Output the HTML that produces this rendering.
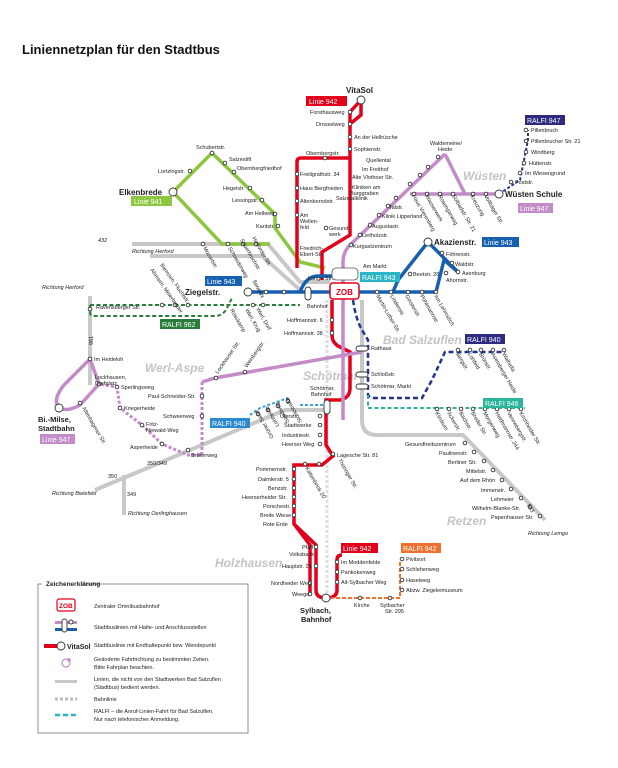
<!DOCTYPE html>
<html><head><meta charset="utf-8">
<style>
body{margin:0;background:#fff;width:618px;height:768px;overflow:hidden}
svg{display:block}
text{font-family:"Liberation Sans",sans-serif;font-size:5.5px;fill:#222}
.b{font-weight:bold}
.st{fill:#fff;stroke:#333;stroke-width:0.9}
.dist{font-size:12px;font-weight:bold;fill:#c4c4c4;font-style:italic}
</style></head><body>
<svg width="618" height="768" viewBox="0 0 618 768" xmlns="http://www.w3.org/2000/svg">
<text x="22" y="54" style="font-size:13px;font-weight:bold;fill:#111">Liniennetzplan für den Stadtbus</text>

<!-- district names -->
<text x="463" y="180" class="dist">Wüsten</text>
<text x="145" y="372" class="dist">Werl-Aspe</text>
<text x="383" y="344" class="dist">Bad Salzuflen</text>
<text x="303" y="380" class="dist">Schötmar</text>
<text x="447" y="525" class="dist">Retzen</text>
<text x="215" y="567" class="dist">Holzhausen</text>

<!-- grey lines -->
<g fill="none" stroke="#c8c8c8" stroke-width="4">
<path d="M132 244 H268 L300 282 H330"/>
<path d="M150 256 H262 L300 290"/>
<path d="M90 296 V385"/>
<path d="M95 490 L285 410 H325"/>
<path d="M124 475 V515"/>
<path d="M362 300 V420 Q362 435 377 435 H463 L545 520"/>
</g>
<path d="M327 300 V600" stroke="#ddd" stroke-width="3" stroke-dasharray="3 2" fill="none"/>
<text x="98" y="242" style="font-style:italic">432</text>
<text x="132" y="253" style="font-style:italic">Richtung Herford</text>
<text x="42" y="289" style="font-style:italic">Richtung Herford</text>
<text x="52" y="495" style="font-style:italic">Richtung Bielefeld</text>
<text x="128" y="515" style="font-style:italic">Richtung Oerlinghausen</text>
<text x="528" y="535" style="font-style:italic">Richtung Lemgo</text>
<text x="108" y="478">350</text><text x="147" y="465">350/349</text><text x="127" y="496">349</text>

<!-- green 941 -->
<g fill="none" stroke="#8dc63f" stroke-width="3.5">
<path d="M173 192 L212 153 L275 214 V228 L300 262 L325 268"/>
<path d="M173 192 L222 244 H270"/>
</g>
<!-- red 942 -->
<g fill="none" stroke="#e3001b" stroke-width="3.5">
<path d="M361 100 L350 112 V235 L322 252 V280"/>
<path d="M361 100 V115 L350 124"/>
<path d="M297 268 V162 Q297 158 301 158 H349"/>
<path d="M332 300 V335 Q332 342 338 346 L350 352 V388 Q350 398 340 400 H326 V445 L333 456 L322 465 H294 V524 L316 545 V590 Q316 598 326 598"/>
<path d="M294 524 L310 545 V595"/>
<path d="M326 598 Q337 598 337 590 V560 Q337 555 342 555"/>
</g>
<path d="M330 598 H400 V560" stroke="#f07030" stroke-width="2" stroke-dasharray="4 2" fill="none"/>
<!-- purple 947 -->
<g fill="none" stroke="#c38bc8" stroke-width="3.5">
<path d="M499 194 H410 M445 154 L465 194 M445 154 L350 245 Q343 252 343 262 V420"/>
<path d="M362 352 L215 378 L202 382"/>
<path d="M90 359 L64 385 Q52 400 59 408 Q68 412 80 405 L99 384 L90 359"/>
</g>
<path d="M202 382 V455 L188 455 L162 444 L142 425 L120 408 L117 387 L99 384 L90 359" stroke="#c38bc8" stroke-width="3" stroke-dasharray="3 2" fill="none"/>
<!-- blue 943 -->
<g fill="none" stroke="#1560b0" stroke-width="3.5">
<path d="M248 292 H436 L444 260 L458 272 L428 242 L398 280 L393 292"/>
<path d="M300 292 Q306 276 318 276 H340"/>
</g>
<!-- dashed RALFI -->
<path d="M90 305 H300 M90 305 V312 Q90 316 94 316 H215 Q222 316 226 310 L232 298" stroke="#2a7d3a" stroke-width="2" stroke-dasharray="4 2.5" fill="none"/>
<path d="M353 300 Q356 320 362 330 L368 340 V395 Q370 398 375 398 H422 L432 380 L445 352 H505" stroke="#23358f" stroke-width="2.5" stroke-dasharray="5 3" fill="none"/>
<path d="M368 395 V408 H525" stroke="#2bb5a0" stroke-width="2" stroke-dasharray="4 2.5" fill="none"/>
<path d="M250 415 L260 408 L288 398 M300 405 H330" stroke="#3aa3d8" stroke-width="2" stroke-dasharray="3 2" fill="none"/>
<path d="M499 194 L520 180 L528 140 V130" stroke="#23358f" stroke-width="2" stroke-dasharray="3 2" fill="none"/>

<!-- ZOB -->
<rect x="330" y="283" width="29" height="16" rx="3" fill="#fff" stroke="#e3001b" stroke-width="1.5"/>
<text x="336" y="295" class="b" style="font-size:8px;fill:#e3001b">ZOB</text>
<rect x="332" y="268" width="26" height="12" rx="4" fill="#fff" stroke="#555" stroke-width="0.8"/>

<!-- stations (circles) -->
<g class="st">
<circle cx="361" cy="100" r="4"/><circle cx="173" cy="192" r="4"/><circle cx="499" cy="194" r="4"/>
<circle cx="248" cy="292" r="4"/><circle cx="428" cy="242" r="4"/><circle cx="59" cy="408" r="4"/><circle cx="326" cy="598" r="4"/>
<circle cx="350" cy="112" r="1.8"/><circle cx="350" cy="124" r="1.8"/><circle cx="350" cy="137" r="1.8"/><circle cx="350" cy="149" r="1.8"/>
<circle cx="325" cy="158" r="1.8"/><circle cx="297" cy="174" r="1.8"/><circle cx="297" cy="188" r="1.8"/><circle cx="297" cy="201" r="1.8"/><circle cx="297" cy="215" r="1.8"/><circle cx="326" cy="228" r="1.8"/>
<circle cx="212" cy="153" r="1.8"/><circle cx="190" cy="171" r="1.8"/><circle cx="225" cy="163" r="1.8"/><circle cx="234" cy="172" r="1.8"/><circle cx="250" cy="188" r="1.8"/><circle cx="262" cy="200" r="1.8"/><circle cx="275" cy="214" r="1.8"/><circle cx="278" cy="226" r="1.8"/>
<circle cx="203" cy="244" r="1.8"/><circle cx="228" cy="244" r="1.8"/><circle cx="243" cy="244" r="1.8"/><circle cx="256" cy="244" r="1.8"/>
<circle cx="438" cy="157" r="1.8"/><circle cx="428" cy="167" r="1.8"/><circle cx="420" cy="175" r="1.8"/><circle cx="410" cy="184" r="1.8"/><circle cx="396" cy="198" r="1.8"/><circle cx="388" cy="206" r="1.8"/><circle cx="379" cy="215" r="1.8"/><circle cx="370" cy="225" r="1.8"/><circle cx="360" cy="235" r="1.8"/><circle cx="351" cy="245" r="1.8"/>
<circle cx="414" cy="194" r="1.8"/><circle cx="427" cy="194" r="1.8"/><circle cx="440" cy="194" r="1.8"/><circle cx="453" cy="194" r="1.8"/><circle cx="473" cy="194" r="1.8"/><circle cx="486" cy="194" r="1.8"/>
<circle cx="526" cy="130" r="1.8"/><circle cx="526" cy="141" r="1.8"/><circle cx="526" cy="152" r="1.8"/><circle cx="524" cy="163" r="1.8"/><circle cx="520" cy="173" r="1.8"/><circle cx="511" cy="182" r="1.8"/>
<circle cx="442" cy="253" r="1.8"/><circle cx="452" cy="263" r="1.8"/><circle cx="458" cy="272" r="1.8"/><circle cx="446" cy="273" r="1.8"/><circle cx="410" cy="274" r="1.8"/>
<circle cx="377" cy="292" r="1.8"/><circle cx="391" cy="292" r="1.8"/><circle cx="408" cy="292" r="1.8"/><circle cx="422" cy="292" r="1.8"/><circle cx="436" cy="292" r="1.8"/>
<circle cx="266" cy="292" r="1.8"/><circle cx="284" cy="292" r="1.8"/>
<circle cx="162" cy="305" r="1.8"/><circle cx="175" cy="305" r="1.8"/><circle cx="188" cy="305" r="1.8"/><circle cx="90" cy="309" r="1.8"/><circle cx="253" cy="305" r="1.8"/><circle cx="263" cy="305" r="1.8"/>
<circle cx="332" cy="320" r="1.8"/><circle cx="332" cy="333" r="1.8"/>
<circle cx="90" cy="359" r="1.8"/><circle cx="99" cy="384" r="1.8"/><circle cx="117" cy="387" r="1.8"/><circle cx="120" cy="408" r="1.8"/><circle cx="142" cy="425" r="1.8"/><circle cx="162" cy="444" r="1.8"/><circle cx="188" cy="450" r="1.8"/><circle cx="80" cy="403" r="1.8"/>
<circle cx="202" cy="396" r="1.8"/><circle cx="202" cy="416" r="1.8"/><circle cx="216" cy="378" r="1.8"/><circle cx="245" cy="372" r="1.8"/>
<circle cx="258" cy="414" r="1.8"/><circle cx="268" cy="410" r="1.8"/><circle cx="278" cy="406" r="1.8"/><circle cx="288" cy="401" r="1.8"/>
<circle cx="320" cy="416" r="1.8"/><circle cx="320" cy="425" r="1.8"/><circle cx="320" cy="435" r="1.8"/><circle cx="320" cy="444" r="1.8"/><circle cx="333" cy="454" r="1.8"/>
<circle cx="294" cy="469" r="1.8"/><circle cx="294" cy="479" r="1.8"/><circle cx="294" cy="488" r="1.8"/><circle cx="294" cy="497" r="1.8"/><circle cx="294" cy="506" r="1.8"/><circle cx="294" cy="515" r="1.8"/><circle cx="305" cy="464" r="1.8"/><circle cx="319" cy="464" r="1.8"/>
<circle cx="316" cy="547" r="1.8"/><circle cx="316" cy="566" r="1.8"/><circle cx="310" cy="583" r="1.8"/><circle cx="310" cy="594" r="1.8"/>
<circle cx="337" cy="562" r="1.8"/><circle cx="337" cy="572" r="1.8"/><circle cx="337" cy="582" r="1.8"/><circle cx="360" cy="598" r="1.8"/><circle cx="390" cy="598" r="1.8"/>
<circle cx="402" cy="559" r="1.8"/><circle cx="402" cy="569" r="1.8"/><circle cx="402" cy="580" r="1.8"/><circle cx="402" cy="590" r="1.8"/>
<circle cx="458" cy="350" r="1.8"/><circle cx="470" cy="350" r="1.8"/><circle cx="481" cy="350" r="1.8"/><circle cx="493" cy="350" r="1.8"/><circle cx="504" cy="350" r="1.8"/>
<circle cx="437" cy="409" r="1.8"/><circle cx="449" cy="409" r="1.8"/><circle cx="461" cy="409" r="1.8"/><circle cx="473" cy="409" r="1.8"/><circle cx="485" cy="409" r="1.8"/><circle cx="497" cy="409" r="1.8"/><circle cx="509" cy="409" r="1.8"/><circle cx="521" cy="409" r="1.8"/>
<circle cx="465" cy="443" r="1.8"/><circle cx="474" cy="452" r="1.8"/><circle cx="484" cy="461" r="1.8"/><circle cx="493" cy="470" r="1.8"/><circle cx="502" cy="480" r="1.8"/><circle cx="511" cy="489" r="1.8"/><circle cx="521" cy="498" r="1.8"/><circle cx="530" cy="507" r="1.8"/><circle cx="540" cy="516" r="1.8"/>
</g>
<rect x="356" y="346" width="12" height="5" rx="2.5" class="st"/><rect x="356" y="372" width="12" height="5" rx="2.5" class="st"/><rect x="356" y="384" width="12" height="5" rx="2.5" class="st"/>
<rect x="324" y="400" width="6" height="14" rx="3" class="st"/><rect x="305" y="287" width="6" height="13" rx="3" class="st"/>

<!-- line labels -->
<g style="font-size:7px">
<rect x="306" y="96" width="41" height="10" fill="#e3001b"/><text x="309" y="104" style="font-size:7px;fill:#fff">Linie 942</text>
<rect x="131" y="196" width="41" height="10" fill="#8dc63f"/><text x="134" y="204" style="font-size:7px;fill:#fff">Linie 941</text>
<rect x="205" y="276" width="37" height="10" fill="#1560b0"/><text x="207" y="284" style="font-size:7px;fill:#fff">Linie 943</text>
<rect x="482" y="237" width="37" height="10" fill="#1560b0"/><text x="484" y="245" style="font-size:7px;fill:#fff">Linie 943</text>
<rect x="360" y="272" width="40" height="10" fill="#2bb5c5"/><text x="362" y="280" style="font-size:7px;fill:#fff">RALFI 943</text>
<rect x="160" y="319" width="40" height="10" fill="#2a7d3a"/><text x="162" y="327" style="font-size:7px;fill:#fff">RALFI 962</text>
<rect x="525" y="115" width="40" height="10" fill="#2d2a80"/><text x="527" y="123" style="font-size:7px;fill:#fff">RALFI 947</text>
<rect x="518" y="203" width="35" height="10" fill="#c38bc8"/><text x="520" y="211" style="font-size:7px;fill:#fff">Linie 947</text>
<rect x="40" y="434" width="35" height="10" fill="#c38bc8"/><text x="42" y="442" style="font-size:7px;fill:#fff">Linie 947</text>
<rect x="465" y="334" width="40" height="10" fill="#2d2a80"/><text x="467" y="342" style="font-size:7px;fill:#fff">RALFI 940</text>
<rect x="210" y="418" width="40" height="10" fill="#2b8ad0"/><text x="212" y="426" style="font-size:7px;fill:#fff">RALFI 940</text>
<rect x="483" y="398" width="40" height="10" fill="#2bb59a"/><text x="485" y="406" style="font-size:7px;fill:#fff">RALFI 946</text>
<rect x="341" y="543" width="37" height="10" fill="#e3001b"/><text x="343" y="551" style="font-size:7px;fill:#fff">Linie 942</text>
<rect x="401" y="543" width="40" height="10" fill="#f07030"/><text x="403" y="551" style="font-size:7px;fill:#fff">RALFI 942</text>
</g>
<!-- terminus names -->
<text x="346" y="93" class="b" style="font-size:8px">VitaSol</text>
<text x="119" y="195" class="b" style="font-size:8px">Elkenbrede</text>
<text x="505" y="197" class="b" style="font-size:8px">Wüsten Schule</text>
<text x="185" y="295" class="b" style="font-size:8px">Ziegelstr.</text>
<text x="434" y="245" class="b" style="font-size:8px">Akazienstr.</text>
<text x="38" y="422" class="b" style="font-size:7.5px">Bi.-Milse,</text><text x="38" y="431" class="b" style="font-size:7.5px">Stadtbahn</text>
<text x="300" y="613" class="b" style="font-size:7.5px">Sylbach,</text><text x="301" y="622" class="b" style="font-size:7.5px">Bahnhof</text>

<!-- stop labels -->
<text x="310" y="114">Forsthausweg</text><text x="316" y="126">Drosselweg</text><text x="354" y="139">An der Hellrüsche</text><text x="354" y="151">Sophienstr.</text>
<text x="306" y="155">Obernbergstr.</text><text x="300" y="176">Freiligrathstr. 34</text><text x="300" y="190">Haus Bergfrieden</text><text x="300" y="203">Altenberndstr.</text><text x="300" y="217">Am</text><text x="300" y="223">Wellen-</text><text x="300" y="229">feld</text>
<text x="329" y="230">Gesund-</text><text x="329" y="236">werk</text><text x="300" y="250">Friedrich-</text><text x="300" y="256">Ebert-Str.</text>
<text x="196" y="149">Schubertstr.</text><text x="158" y="173">Lortzingstr.</text><text x="229" y="161">Salzestift</text><text x="237" y="170">Obernbergfriedhof</text><text x="223" y="190">Hegelstr.</text><text x="232" y="202">Lessingstr.</text><text x="245" y="215">Am Hellweg</text><text x="256" y="228">Kantstr.</text>
<text x="366" y="162">Quellental</text><text x="362" y="171">Im Freithof</text><text x="352" y="179">Alte Vlothoer Str.</text><text x="352" y="189">Kliniken am</text><text x="350" y="195">Burggraben</text><text x="336" y="200">Salzetalklinik</text><text x="389" y="209">Talstr.</text><text x="382" y="218">Klinik Lipperland</text><text x="372" y="228">Augustastr.</text><text x="362" y="237">Lietholzstr.</text><text x="353" y="248">Kurgastzentrum</text>
<text x="430" y="145">Waldemeine/</text><text x="438" y="151">Heide</text>
<text x="531" y="132">Pillenbruch</text><text x="531" y="143">Pillenbrucher Str. 21</text><text x="531" y="154">Windberg</text><text x="529" y="165">Hüttenstr.</text><text x="525" y="175">Im Wiesengrund</text><text x="515" y="184">Poststr.</text>
<text x="446" y="256">Föhrenstr.</text><text x="455" y="266">Waldstr.</text><text x="462" y="275">Asenburg</text><text x="446" y="282">Ahornstr.</text><text x="413" y="276">Beetstr. 28</text>
<text x="363" y="268">Am Markt</text><text x="308" y="280">Lange Str.</text><text x="307" y="308">Bahnhof</text>
<text x="287" y="322">Hoffmannstr. 6</text><text x="284" y="335">Hoffmannstr. 38</text>
<text x="371" y="350">Rathaus</text><text x="371" y="376">Schloßstr.</text><text x="371" y="388">Schötmar, Markt</text>
<text x="310" y="390">Schötmar,</text><text x="311" y="396">Bahnhof</text>
<text x="96" y="309">Ravensberger Str.</text>
<text x="94" y="361">Im Heideloh</text><text x="95" y="379">Lockhausen,</text><text x="95" y="385">Dorfplatz</text><text x="121" y="389">Sperlingsweg</text><text x="124" y="410">Kriegerheide</text><text x="146" y="426">Fritz-</text><text x="146" y="432">Niewald-Weg</text><text x="130" y="449">Asperheide</text><text x="191" y="457">Brökerweg</text>
<text x="148" y="398">Paul-Schneider-Str.</text><text x="163" y="418">Schweerweg</text>
<text x="280" y="418">Uferstr.</text><text x="284" y="427">Stadtwerke</text><text x="282" y="437">Industriestr.</text><text x="282" y="446">Heerser Weg</text><text x="337" y="457">Lagesche Str. 81</text>
<text x="256" y="471">Pommernstr.</text><text x="258" y="481">Daimlerstr. 5</text><text x="268" y="490">Benzstr.</text><text x="242" y="499">Heerserheider Str.</text><text x="263" y="508">Porschestr.</text><text x="260" y="517">Breite Wiese</text><text x="263" y="526">Rote Erde</text>
<text x="302" y="549">Pfaff</text><text x="289" y="556">Volksbank</text><text x="282" y="568">Hauptstr. 25</text><text x="271" y="585">Nordheider Weg</text><text x="292" y="596">Weege</text>
<text x="341" y="564">Im Moddenfelde</text><text x="341" y="574">Pankokenweg</text><text x="341" y="584">Alt-Sylbacher Weg</text>
<text x="354" y="607">Kirche</text><text x="380" y="607">Sylbacher</text><text x="385" y="613">Str. 295</text>
<text x="406" y="561">Pivitsort</text><text x="406" y="571">Schlehenweg</text><text x="406" y="582">Haselweg</text><text x="406" y="592">Abzw. Ziegeleimuseum</text>
<text x="405" y="446">Gesundheitszentrum</text><text x="439" y="455">Paulinenstr.</text><text x="448" y="464">Berliner Str.</text><text x="466" y="473">Mittelstr.</text><text x="460" y="482">Auf dem Rhön</text><text x="481" y="492">Immenstr.</text><text x="491" y="501">Lehmeier</text><text x="472" y="510">Wilhelm-Blanke-Str.</text><text x="491" y="519">Papenhauser Str.</text>
<!-- rotated labels -->
<g>
<text transform="translate(203,248) rotate(60)">Mozartstr.</text>
<text transform="translate(228,248) rotate(60)">Schneiderweg</text>
<text transform="translate(240,240) rotate(60)">Sauerbruchstr.</text>
<text transform="translate(252,238) rotate(60)">Herforder Str.</text>
<text transform="translate(150,270) rotate(55)">Ahmsen, Meierbreder</text>
<text transform="translate(160,265) rotate(55)">Biemsen, Fluchtstr.</text>
<text transform="translate(255,280) rotate(-120)" style="text-anchor:end">Malweg</text>
<text transform="translate(230,310) rotate(60)">Rosskamp</text>
<text transform="translate(245,310) rotate(60)">Werl, Krug</text>
<text transform="translate(256,309) rotate(60)">Werl, Dorf</text>
<text transform="translate(412,196) rotate(60)">Haus Vierenberg</text>
<text transform="translate(425,196) rotate(60)">Wasserwerk</text>
<text transform="translate(438,196) rotate(60)">Rosengarweg</text>
<text transform="translate(452,196) rotate(60)">Solbadstr. Str. 21</text>
<text transform="translate(470,196) rotate(60)">Kreuzung</text>
<text transform="translate(484,196) rotate(60)">Vollbäger Str.</text>
<text transform="translate(376,296) rotate(60)">Martin-Luther-Str.</text>
<text transform="translate(390,296) rotate(60)">Lindenstr.</text>
<text transform="translate(405,296) rotate(60)">Ginsterstr.</text>
<text transform="translate(420,296) rotate(60)">Pohlmannstr.</text>
<text transform="translate(434,296) rotate(60)">Am Lehmstich</text>
<text transform="translate(456,354) rotate(60)">Bergstr.</text>
<text transform="translate(468,354) rotate(60)">Lohfeld</text>
<text transform="translate(479,354) rotate(60)">Brünstr.</text>
<text transform="translate(491,354) rotate(60)">Asemberger Heide</text>
<text transform="translate(502,354) rotate(60)">Walhalla</text>
<text transform="translate(435,413) rotate(60)">Klinikum</text>
<text transform="translate(447,413) rotate(60)">Ackerstr.</text>
<text transform="translate(459,413) rotate(60)">Bachstr.</text>
<text transform="translate(471,413) rotate(60)">Breder Str.</text>
<text transform="translate(483,413) rotate(60)">Morgenweg</text>
<text transform="translate(495,413) rotate(60)">Heldmannstr. 244</text>
<text transform="translate(507,413) rotate(60)">Vennebergstr.</text>
<text transform="translate(519,413) rotate(60)">Kirchheider Str.</text>
<text transform="translate(218,374) rotate(-55)">Lockhauser Str.</text>
<text transform="translate(247,368) rotate(-55)">Weinbergstr.</text>
<text transform="translate(82,408) rotate(60)">Altenhagener Str.</text>
<text transform="translate(338,460) rotate(60)">Thüringer Str.</text>
<text transform="translate(305,468) rotate(60)">Kattenbrink 20</text>
<text transform="translate(258,410) rotate(-120)" style="text-anchor:end">Grüner Sand</text>
<text transform="translate(268,406) rotate(-120)" style="text-anchor:end">Lohheide</text>
<text transform="translate(278,402) rotate(-120)" style="text-anchor:end">Sandweg</text>
<text transform="translate(288,397) rotate(-120)" style="text-anchor:end">Storkstraße</text>
<text transform="translate(93,345) rotate(-90)">961</text>
<text transform="translate(527,505) rotate(60)">943</text>
</g>

<!-- legend -->
<rect x="38" y="584" width="210" height="149" fill="none" stroke="#777" stroke-width="0.8"/>
<rect x="42" y="579" width="40" height="8" fill="#fff"/>
<text x="46" y="586" class="b" style="font-size:6.5px">Zeichenerklärung</text>
<rect x="57" y="599" width="18" height="12" rx="2" fill="#fff" stroke="#e3001b" stroke-width="1.2"/>
<text x="59" y="608" class="b" style="font-size:6.5px;fill:#e3001b">ZOB</text>
<text x="94" y="608">Zentraler Omnibusbahnhof</text>
<rect x="55" y="621" width="22" height="3" fill="#c38bc8"/><rect x="55" y="628" width="22" height="3" fill="#1560b0"/>
<rect x="62" y="619" width="5" height="13" rx="2.5" class="st"/><circle cx="71" cy="622" r="2" class="st"/>
<text x="94" y="629">Stadtbuslinien mit Halte- und Anschlussstellen</text>
<rect x="44" y="644" width="14" height="4" fill="#e3001b"/><circle cx="61" cy="646" r="4" class="st"/>
<text x="67" y="649" class="b" style="font-size:7px">VitaSol</text>
<text x="94" y="647">Stadtbuslinie mit Endhaltepunkt bzw. Wendepunkt</text>
<circle cx="66" cy="663" r="4" fill="none" stroke="#c38bc8" stroke-width="1.2"/><circle cx="69" cy="660" r="1.8" fill="#c38bc8"/>
<text x="94" y="661">Geänderte Fahrtrichtung zu bestimmten Zeiten.</text><text x="94" y="669">Bitte Fahrplan beachten.</text>
<rect x="55" y="680" width="22" height="3" fill="#c8c8c8"/>
<text x="94" y="681">Linien, die nicht von den Stadtwerken Bad Salzuflen</text><text x="94" y="689">(Stadtbus) bedient werden.</text>
<path d="M55 699 H77" stroke="#bbb" stroke-width="3" stroke-dasharray="3 2"/>
<text x="94" y="701">Bahnlinie</text>
<path d="M55 715 H77" stroke="#2bb5c5" stroke-width="2.5" stroke-dasharray="5 3"/>
<text x="94" y="713">RALFI – die Anruf-Linien-Fahrt für Bad Salzuflen.</text><text x="94" y="721">Nur nach telefonischer Anmeldung.</text>
</svg>
</body></html>
